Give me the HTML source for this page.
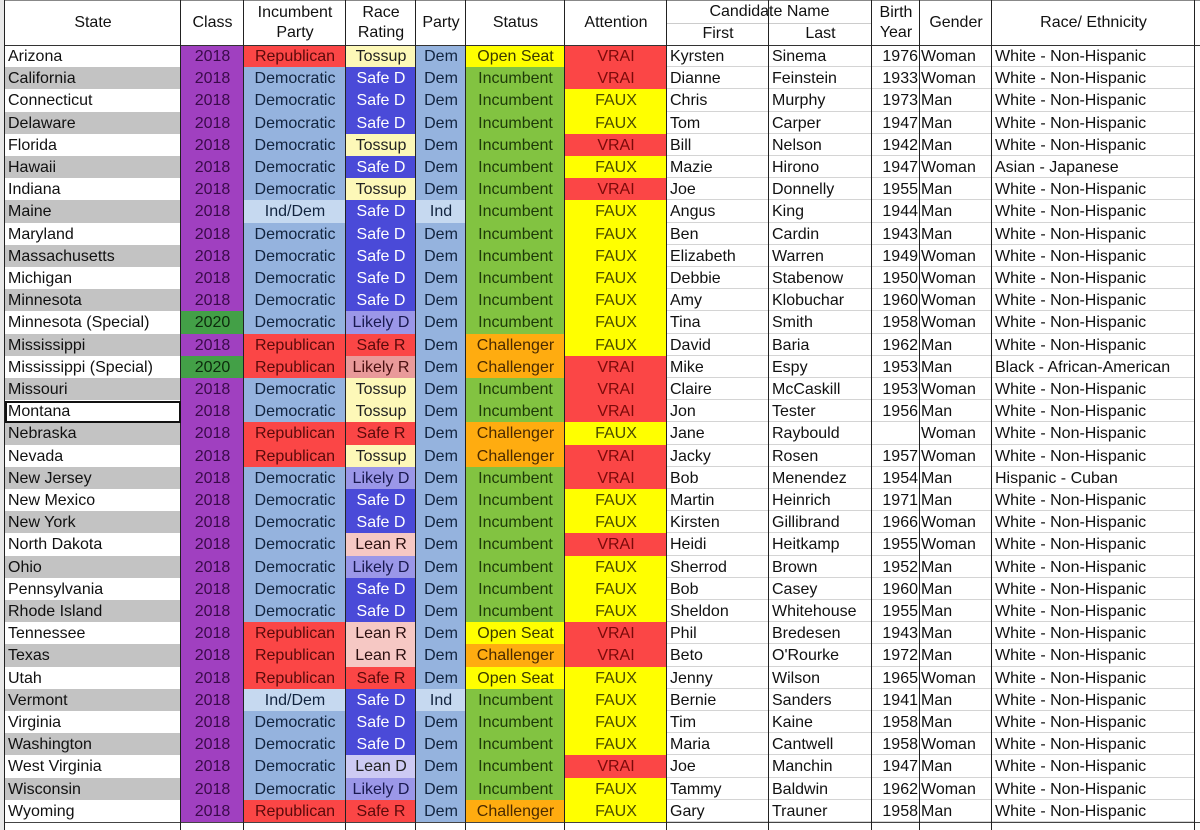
<!DOCTYPE html>
<html><head><meta charset="utf-8">
<style>
body{margin:0;width:1200px;height:830px;overflow:hidden;background:#fff;font-family:"Liberation Sans",Arial,sans-serif;}
#g{position:absolute;left:0;top:0;width:1200px;height:830px;}
.c{position:absolute;box-sizing:border-box;font-size:16px;line-height:24px;white-space:nowrap;overflow:hidden;color:#111;}
.h{position:absolute;box-sizing:border-box;font-size:16px;line-height:20px;text-align:center;color:#111;display:flex;align-items:center;justify-content:center;}
.v{position:absolute;top:0;width:1px;background:#222;}
</style></head><body><div id="g"></div>
<script>
var X=[5,181,244,346,416,466,565,667,769,872,920,992,1195];
var rows=[
["Arizona",0,"R","Tossup","Dem","O","V","Kyrsten","Sinema","1976","Woman","W"],
["California",0,"D","SafeD","Dem","I","V","Dianne","Feinstein","1933","Woman","W"],
["Connecticut",0,"D","SafeD","Dem","I","F","Chris","Murphy","1973","Man","W"],
["Delaware",0,"D","SafeD","Dem","I","F","Tom","Carper","1947","Man","W"],
["Florida",0,"D","Tossup","Dem","I","V","Bill","Nelson","1942","Man","W"],
["Hawaii",0,"D","SafeD","Dem","I","F","Mazie","Hirono","1947","Woman","Asian - Japanese"],
["Indiana",0,"D","Tossup","Dem","I","V","Joe","Donnelly","1955","Man","W"],
["Maine",0,"ID","SafeD","Ind","I","F","Angus","King","1944","Man","W"],
["Maryland",0,"D","SafeD","Dem","I","F","Ben","Cardin","1943","Man","W"],
["Massachusetts",0,"D","SafeD","Dem","I","F","Elizabeth","Warren","1949","Woman","W"],
["Michigan",0,"D","SafeD","Dem","I","F","Debbie","Stabenow","1950","Woman","W"],
["Minnesota",0,"D","SafeD","Dem","I","F","Amy","Klobuchar","1960","Woman","W"],
["Minnesota (Special)",1,"D","LikelyD","Dem","I","F","Tina","Smith","1958","Woman","W"],
["Mississippi",0,"R","SafeR","Dem","C","F","David","Baria","1962","Man","W"],
["Mississippi (Special)",1,"R","LikelyR","Dem","C","V","Mike","Espy","1953","Man","Black - African-American"],
["Missouri",0,"D","Tossup","Dem","I","V","Claire","McCaskill","1953","Woman","W"],
["Montana",0,"D","Tossup","Dem","I","V","Jon","Tester","1956","Man","W"],
["Nebraska",0,"R","SafeR","Dem","C","F","Jane","Raybould","","Woman","W"],
["Nevada",0,"R","Tossup","Dem","C","V","Jacky","Rosen","1957","Woman","W"],
["New Jersey",0,"D","LikelyD","Dem","I","V","Bob","Menendez","1954","Man","Hispanic - Cuban"],
["New Mexico",0,"D","SafeD","Dem","I","F","Martin","Heinrich","1971","Man","W"],
["New York",0,"D","SafeD","Dem","I","F","Kirsten","Gillibrand","1966","Woman","W"],
["North Dakota",0,"D","LeanR","Dem","I","V","Heidi","Heitkamp","1955","Woman","W"],
["Ohio",0,"D","LikelyD","Dem","I","F","Sherrod","Brown","1952","Man","W"],
["Pennsylvania",0,"D","SafeD","Dem","I","F","Bob","Casey","1960","Man","W"],
["Rhode Island",0,"D","SafeD","Dem","I","F","Sheldon","Whitehouse","1955","Man","W"],
["Tennessee",0,"R","LeanR","Dem","O","V","Phil","Bredesen","1943","Man","W"],
["Texas",0,"R","LeanR","Dem","C","V","Beto","O'Rourke","1972","Man","W"],
["Utah",0,"R","SafeR","Dem","O","F","Jenny","Wilson","1965","Woman","W"],
["Vermont",0,"ID","SafeD","Ind","I","F","Bernie","Sanders","1941","Man","W"],
["Virginia",0,"D","SafeD","Dem","I","F","Tim","Kaine","1958","Man","W"],
["Washington",0,"D","SafeD","Dem","I","F","Maria","Cantwell","1958","Woman","W"],
["West Virginia",0,"D","LeanD","Dem","I","V","Joe","Manchin","1947","Man","W"],
["Wisconsin",0,"D","LikelyD","Dem","I","F","Tammy","Baldwin","1962","Woman","W"],
["Wyoming",0,"R","SafeR","Dem","C","F","Gary","Trauner","1958","Man","W"]];
var inc={R:["Republican","#fb4646","#5a0a0a"],D:["Democratic","#95b3de","#12243f"],ID:["Ind/Dem","#c6d9f0","#12243f"]};
var rat={Tossup:["Tossup","#fdf8b8","#222"],SafeD:["Safe D","#4a4ad8","#fff"],LikelyD:["Likely D","#9b97e8","#1a1a50"],LeanD:["Lean D","#cdcaf3","#222"],SafeR:["Safe R","#fb4646","#5a0a0a"],LikelyR:["Likely R","#e99a9a","#4a1010"],LeanR:["Lean R","#f6c8c4","#2a1010"]};
var st={I:["Incumbent","#82c341","#1e3a08"],O:["Open Seat","#ffff00","#3a3a00"],C:["Challenger","#ffac10","#4a2a00"]};
var at={V:["VRAI","#fb4646","#7a0a0a"],F:["FAUX","#ffff00","#4a4a00"]};
var g=document.getElementById('g'),H="";
function cell(x0,x1,y,h,txt,bg,col,al,extra){H+='<div class="c" style="left:'+x0+'px;top:'+y+'px;width:'+(x1-x0)+'px;height:'+h+'px;background:'+bg+';color:'+col+';text-align:'+al+';padding:0 3px;'+(extra||'')+'">'+txt+'</div>';}
function hd(x0,x1,y,h,t){H+='<div class="h" style="left:'+x0+'px;top:'+y+'px;width:'+(x1-x0)+'px;height:'+h+'px">'+t+'</div>';}
hd(X[0],X[1],1,44,"State");hd(X[1],X[2],1,44,"Class");hd(X[2],X[3],1,44,"Incumbent<br>Party");hd(X[3],X[4],1,44,"Race<br>Rating");hd(X[4],X[5],1,44,"Party");hd(X[5],X[6],1,44,"Status");hd(X[6],X[7],1,44,"Attention");
hd(X[7],X[9],1,22,"Candidate Name");hd(X[7],X[8],23,22,"First");hd(X[8],X[9],23,22,"Last");hd(X[9],X[10],1,44,"Birth<br>Year");hd(X[10],X[11],1,44,"Gender");hd(X[11],X[12],1,44,"Race/ Ethnicity");
H+='<div style="position:absolute;left:'+X[7]+'px;top:23px;width:'+(X[9]-X[7])+'px;height:1px;background:#ccc"></div>';
H+='<div style="position:absolute;left:0;top:0;width:1200px;height:1px;background:#888"></div>';
var rh=22.2,y0=45;
rows.forEach(function(r,i){
 var y=Math.round(y0+i*rh),h=Math.round(y0+(i+1)*rh)-y;
 cell(X[0],X[1],y,h,r[0],i%2?"#c3c3c3":"#fff","#111","left");
 cell(X[1],X[2],y,h,r[1]?"2020":"2018",r[1]?"#43a047":"#a040c0",r[1]?"#0c2a0c":"#3a0a4a","center");
 var a=inc[r[2]];cell(X[2],X[3],y,h,a[0],a[1],a[2],"center");
 a=rat[r[3]];cell(X[3],X[4],y,h,a[0],a[1],a[2],"center");
 cell(X[4],X[5],y,h,r[4],r[4]=="Ind"?"#c6d9f0":"#95b3de","#12243f","center");
 a=st[r[5]];cell(X[5],X[6],y,h,a[0],a[1],a[2],"center");
 a=at[r[6]];cell(X[6],X[7],y,h,a[0],a[1],a[2],"center");
 var bl='border-bottom:1px solid #d4d4d4;';
 cell(X[7],X[8],y,h,r[7],"#fff","#111","left",bl);
 cell(X[8],X[9],y,h,r[8],"#fff","#111","left",bl);
 cell(X[9],X[10],y,h,r[9],"#fff","#111","right",bl+"padding:0 2px;");
 cell(X[10],X[11],y,h,r[10],"#fff","#111","left",bl+"padding:0 1px;");
 cell(X[11],X[12],y,h,r[11]=="W"?"White - Non-Hispanic":r[11],"#fff","#111","left",bl);
});
var yb=Math.round(y0+rows.length*rh);
H+='<div style="position:absolute;left:0;top:'+yb+'px;width:1200px;height:1px;background:#444"></div>';
H+='<div style="position:absolute;left:0;top:45px;width:1200px;height:1px;background:#333"></div>';
X.forEach(function(x){H+='<div class="v" style="left:'+(x-1)+'px;height:'+(yb+8)+'px"></div>';});
H+='<div style="position:absolute;left:0;top:0;width:4px;height:830px;background:#e8e8e8"></div>';
H+='<div style="position:absolute;left:5px;top:401px;width:176px;height:22px;border:2px solid #111;box-sizing:border-box"></div>';
g.innerHTML=H;
</script></body></html>
